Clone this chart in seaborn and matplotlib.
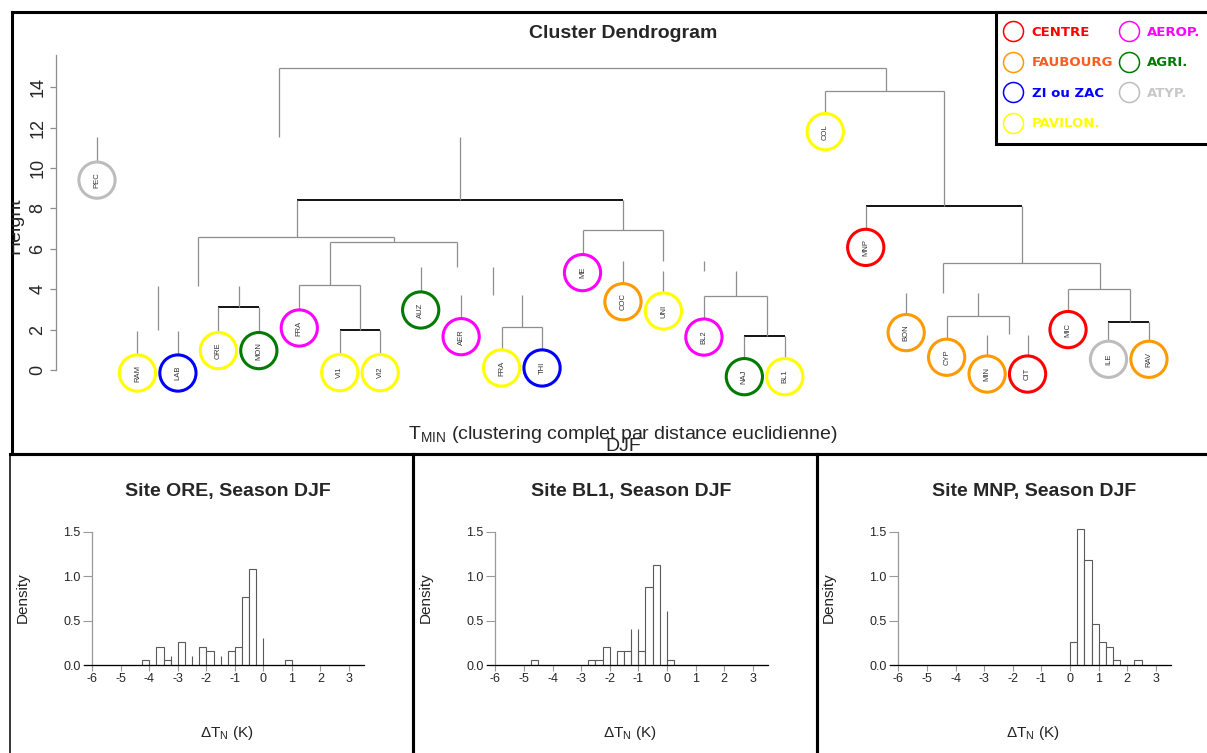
import numpy as np
import matplotlib
matplotlib.use('Agg')
import matplotlib.pyplot as plt
from matplotlib.lines import Line2D
import seaborn as sns

# feuilles du dendrogramme, de gauche a droite
leaf_labels = ['PEC', 'RAM', 'LAB', 'ORE', 'MON', 'FRA', 'VI1', 'VI2', 'AUZ', 'AER', 'FRA', 'THI', 'ME',
               'COC', 'UNI', 'BL2', 'NAJ', 'BL1', 'COL', 'MNP', 'BON', 'CYP', 'MIN', 'CIT', 'MIC', 'ILE', 'RAV']
leaf_groups = ['ATYP.', 'PAVILON.', 'ZI ou ZAC', 'PAVILON.', 'AGRI.', 'AEROP.', 'PAVILON.', 'PAVILON.',
               'AGRI.', 'AEROP.', 'PAVILON.', 'ZI ou ZAC', 'AEROP.', 'FAUBOURG', 'PAVILON.', 'AEROP.',
               'AGRI.', 'PAVILON.', 'PAVILON.', 'CENTRE', 'FAUBOURG', 'FAUBOURG', 'FAUBOURG', 'CENTRE',
               'CENTRE', 'ATYP.', 'FAUBOURG']
leaf_height = [9.4, -0.15, -0.15, 0.96, 0.96, 2.08, -0.13, -0.13, 2.97, 1.65, 0.1, 0.1, 4.82,
               3.38, 2.92, 1.63, -0.33, -0.33, 11.8, 6.07, 1.85, 0.63, -0.2, -0.2, 2.0, 0.53, 0.53]
leaf_top = [11.55, 1.93, 1.93, 3.1, 3.1, 4.2, 2.0, 2.0, 5.1, 3.7, 2.13, 2.13, 6.93,
            5.4, 4.9, 3.66, 1.68, 1.68, 13.8, 8.12, 3.8, 2.67, 1.73, 1.73, 4.0, 2.4, 2.4]

# liaisons horizontales (hauteur, de, a) en position de feuille
hlink_y = [3.1, 6.6, 4.2, 2.0, 6.33, 2.13, 8.4, 6.93, 3.66, 1.68, 14.93, 13.8, 8.12, 5.28, 2.67, 4.0, 2.4]
hlink_x0 = [3, 2.5, 5, 6, 5.75, 10, 4.94, 12, 15, 16, 4.5, 18, 19, 20.9, 21, 24, 25]
hlink_x1 = [4, 7.34, 6.5, 7, 8.9, 11, 13, 14, 16.55, 17, 19.5, 20.94, 22.85, 24.8, 22.53, 25.54, 26]
hlink_dark = [0, 3, 6, 9, 12, 16]

# liaisons verticales
vlink_x = [1.5, 3.5, 2.5, 7.34, 6.5, 5.75, 8.9, 9.78, 10.5, 4.94, 8.97, 13.0, 14.0, 15.0, 15.79,
           16.55, 4.5, 19.5, 20.94, 22.85, 20.9, 24.8, 21.78, 22.53, 25.54]
vlink_y0 = [2.0, 3.1, 4.15, 6.33, 2.0, 4.2, 5.1, 3.7, 2.13, 6.6, 8.4, 6.93, 5.4, 4.9, 3.66,
            1.68, 11.55, 13.8, 8.12, 5.28, 3.83, 4.0, 2.67, 1.77, 2.4]
vlink_y1 = [4.15, 4.15, 6.6, 6.6, 4.2, 6.33, 6.33, 5.1, 3.7, 8.4, 11.55, 8.4, 6.93, 5.4, 4.9,
            3.66, 14.93, 14.93, 13.8, 8.12, 5.28, 5.28, 3.8, 2.67, 4.0]

groups = ['CENTRE', 'FAUBOURG', 'ZI ou ZAC', 'PAVILON.', 'AEROP.', 'AGRI.', 'ATYP.']

# histogrammes (bord gauche des classes de 0.25 K, densite)
sites = ['ORE', 'BL1', 'MNP']
ore_left = [-4.25, -3.75, -3.5, -3.0, -2.25, -2.0, -1.25, -1.0, -0.75, -0.5, 0.75]
ore_dens = [0.056, 0.206, 0.056, 0.26, 0.206, 0.157, 0.157, 0.206, 0.764, 1.08, 0.056]
ore_spike_x = [-3.25, -2.5, -1.5, 0.0]
ore_spike_h = [0.105, 0.105, 0.105, 0.31]
bl1_left = [-4.75, -2.75, -2.5, -2.25, -1.75, -1.5, -1.0, -0.75, -0.5, 0.0]
bl1_dens = [0.056, 0.056, 0.056, 0.206, 0.157, 0.157, 0.157, 0.876, 1.127, 0.056]
bl1_spike_x = [-1.25, -1.0, 0.0]
bl1_spike_h = [0.41, 0.41, 0.61]
mnp_left = [0.0, 0.25, 0.5, 0.75, 1.0, 1.25, 1.5, 2.25]
mnp_dens = [0.26, 1.53, 1.18, 0.46, 0.26, 0.206, 0.056, 0.056]
mnp_spike_x = []
mnp_spike_h = []

group_colors = {'CENTRE': '#ff0000', 'FAUBOURG': '#ff9a00', 'ZI ou ZAC': '#0000ff', 'PAVILON.': '#ffff00',
                'AEROP.': '#ff00ff', 'AGRI.': '#007a00', 'ATYP.': '#bdbdbd'}
text_colors = {'CENTRE': '#ff0000', 'FAUBOURG': '#ff5a24', 'ZI ou ZAC': '#0000ff', 'PAVILON.': '#ffff00',
               'AEROP.': '#ff00ff', 'AGRI.': '#007a00', 'ATYP.': '#c8c8c8'}

sns.set_style('white')
plt.rcParams['font.family'] = ['Liberation Sans', 'DejaVu Sans']
plt.rcParams['mathtext.fontset'] = 'custom'
plt.rcParams['mathtext.rm'] = 'Liberation Sans'
plt.rcParams['axes.unicode_minus'] = False

W, H = 1207, 753
fig = plt.figure(figsize=(W / 100, H / 100), dpi=100)


def rect(x0, y0, x1, y1):
    return [x0 / W, 1 - y1 / H, (x1 - x0) / W, (y1 - y0) / H]


# ---- dendrogramme ----
ax = fig.add_axes(rect(7.99, 26.6, 1197.5, 410.4))
ax.patch.set_alpha(0)
ax.set_xlim(-2.2, 27.2)
ax.set_ylim(-2, 17)
pos = np.arange(len(leaf_labels))
r = 0.94
grey = '#8e8e8e'

for i in range(len(hlink_y)):
    dark = i in hlink_dark
    ax.hlines(hlink_y[i], hlink_x0[i], hlink_x1[i], color='#000000' if dark else grey,
              lw=1.3 if dark else 0.9, zorder=2)
ax.vlines(vlink_x, vlink_y0, vlink_y1, color=grey, lw=0.9, zorder=2)
ax.vlines(pos, np.array(leaf_height) + r, leaf_top, color=grey, lw=0.9, zorder=2)

cols = [group_colors[g] for g in leaf_groups]
ax.scatter(pos, leaf_height, s=680, facecolors='none', edgecolors=cols, linewidths=2.2, zorder=3)
for i, lab in enumerate(leaf_labels):
    ax.text(pos[i], leaf_height[i], lab, rotation=90, ha='center', va='center',
            fontsize=5.5, color='#333333', zorder=4)

for s in ['top', 'right', 'bottom']:
    ax.spines[s].set_visible(False)
ax.spines['left'].set_position(('data', -1.02))
ax.spines['left'].set_bounds(0, 15.6)
ax.spines['left'].set_color(grey)
ax.spines['left'].set_linewidth(0.9)
ax.set_xticks([])
ax.set_yticks(range(0, 15, 2))
ax.tick_params(axis='y', labelrotation=90, length=4.3, width=0.9, color=grey,
               pad=2.5, labelsize=13, left=True)
for t in ax.get_yticklabels():
    t.set_va('center')

handles = [Line2D([], [], ls='none', marker='o', markersize=14.4, markerfacecolor='none',
                  markeredgecolor=group_colors[g], markeredgewidth=1.1) for g in groups]
leg = ax.legend(handles, groups, ncol=2, loc='upper left',
                bbox_to_anchor=(996 / W, 1 - 11.5 / H), bbox_transform=fig.transFigure,
                borderaxespad=0, fancybox=False, frameon=True, edgecolor='black',
                prop={'family': 'DejaVu Sans', 'weight': 'bold', 'size': 9.5},
                labelcolor=[text_colors[g] for g in groups],
                borderpad=1.07, handlelength=0.44, handletextpad=1.2, columnspacing=0.95,
                labelspacing=1.33)
leg.get_frame().set_linewidth(2.2)
leg.get_frame().set_alpha(1)

# ---- cadres ----
ax_top = fig.add_axes(rect(11.5, 11.5, 1215, 453.5), zorder=10)
ax_top.patch.set_alpha(0)
ax_top.set_xticks([])
ax_top.set_yticks([])
for s in ax_top.spines.values():
    s.set_color('black')
    s.set_linewidth(2.2)

fig.text(623 / W, 1 - 33 / H, 'Cluster Dendrogram', ha='center', va='center',
         fontsize=14, fontweight='bold')
fig.text(623 / W, 1 - 439 / H, r'T$_\mathregular{MIN}$ (clustering complet par distance euclidienne)',
         ha='center', va='baseline', fontsize=14)
fig.text(623 / W, 1 - 451 / H, 'DJF', ha='center', va='baseline', fontsize=14)
ax_top.text(19 / W, 1 - 226 / H, 'Height', rotation=90, rotation_mode='anchor', ha='center',
            va='baseline', fontsize=14, transform=fig.transFigure, clip_on=True)

panel_x = [(10, 413), (413, 817), (817, 1215)]
for k, (x0, x1) in enumerate(panel_x):
    axb = fig.add_axes(rect(x0, 453.5, x1, 760), zorder=10)
    axb.patch.set_alpha(0)
    axb.set_xticks([])
    axb.set_yticks([])
    for s in axb.spines.values():
        s.set_color('black')
        s.set_linewidth(2.2)
    if k == 0:
        axb.spines['left'].set_linewidth(1.1)

# ---- histogrammes ----
hist_left = [ore_left, bl1_left, mnp_left]
hist_dens = [ore_dens, bl1_dens, mnp_dens]
spike_x = [ore_spike_x, bl1_spike_x, mnp_spike_x]
spike_h = [ore_spike_h, bl1_spike_h, mnp_spike_h]
hist_rects = [(80.9, 366.1), (483.86, 769.9), (886.8, 1173.1)]

for k, site in enumerate(sites):
    axh = fig.add_axes(rect(hist_rects[k][0], 523.06, hist_rects[k][1], 674.2))
    axh.patch.set_alpha(0)
    centers = np.array(hist_left[k]) + 0.125
    sns.histplot(x=centers, weights=hist_dens[k], binwidth=0.25, binrange=(-6, 3.5), stat='count',
                 color='white', edgecolor='#5a5a5a', linewidth=0.8, alpha=1, ax=axh)
    if spike_x[k]:
        axh.vlines(spike_x[k], 0, spike_h[k], color='#5a5a5a', lw=0.8)
    axh.set_xlim(-6.4, 3.6)
    axh.set_ylim(-0.1, 1.6)
    axh.set_xlabel('')
    axh.set_ylabel('')
    axh.spines['top'].set_visible(False)
    axh.spines['right'].set_visible(False)
    axh.spines['left'].set_position(('data', -6))
    axh.spines['left'].set_bounds(0, 1.5)
    axh.spines['left'].set_color('#999999')
    axh.spines['left'].set_linewidth(0.9)
    axh.spines['bottom'].set_position(('data', 0))
    axh.spines['bottom'].set_bounds(-6.3, 3.53)
    axh.spines['bottom'].set_color('black')
    axh.spines['bottom'].set_linewidth(0.9)
    axh.set_xticks(range(-6, 4))
    axh.set_yticks([0, 0.5, 1.0, 1.5])
    axh.set_yticklabels(['0.0', '0.5', '1.0', '1.5'])
    axh.tick_params(axis='x', length=4.5, width=0.8, color='#999999', pad=1, labelsize=9, bottom=True)
    axh.tick_params(axis='y', length=6.5, width=0.8, color='#999999', pad=2, labelsize=9, left=True)
    axh.text(0.515, 1.212, 'Site %s, Season DJF' % site, transform=axh.transAxes, ha='center',
             va='center', fontsize=14, fontweight='bold')
    axh.text(-0.204, 0.504, 'Density', transform=axh.transAxes, rotation=90, ha='center',
             va='center', fontsize=11, color='#222222')
    axh.text(0.51, -0.387, r'ΔT$_\mathregular{N}$ (K)', transform=axh.transAxes, ha='center',
             va='center', fontsize=11, color='#222222')

fig.savefig('out.png', dpi=100)
